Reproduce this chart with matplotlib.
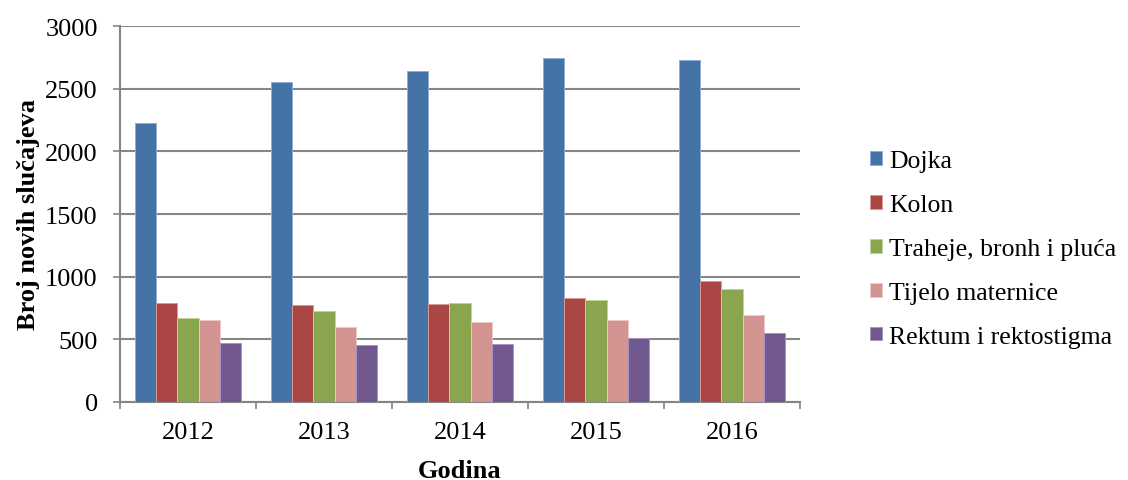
import matplotlib
matplotlib.use("Agg")
import matplotlib.pyplot as plt
import numpy as np

years = ["2012", "2013", "2014", "2015", "2016"]
series = ["Dojka", "Kolon", "Traheje, bronh i pluća", "Tijelo maternice", "Rektum i rektostigma"]
dojka = [2224, 2553, 2638, 2747, 2731]
kolon = [789, 776, 781, 829, 964]
traheje = [672, 723, 787, 815, 900]
tijelo = [651, 595, 638, 656, 693]
rektum = [470, 457, 462, 508, 550]
values = [dojka, kolon, traheje, tijelo, rektum]
colors = ["#4572A7", "#AA4643", "#89A54E", "#D39391", "#71588F"]
edges = ["#8FAED6", "#D89B99", "#BFD39A", "#EDC9C8", "#A895C0"]

plt.rcParams['font.family'] = ['Liberation Serif', 'DejaVu Serif']

fig = plt.figure(figsize=(11.28, 4.81), dpi=100)
ax = fig.add_axes([120/1128, 1-403/481, 680/1128, 376/481])

x = np.arange(len(years))
w = 0.155
for i, (name, vals) in enumerate(zip(series, values)):
    ax.bar(x + (i - 2) * w, vals, width=w, color=colors[i], edgecolor=edges[i],
           linewidth=0.7, label=name, zorder=3)

ax.set_xlim(-0.5, len(years) - 0.5)
ax.set_ylim(0, 3000)
ax.set_yticks(np.arange(0, 3001, 500))
ax.set_xticks(x)
ax.set_xticklabels(years)
ax.set_xticks(np.arange(-0.5, len(years), 1), minor=True)
ax.tick_params(axis='x', which='major', length=0, labelsize=19, pad=14)
ax.tick_params(axis='x', which='minor', length=5, color='#868686', width=1.2, direction='out')
ax.tick_params(axis='y', length=5, color='#868686', width=1.2, direction='out', labelsize=19, pad=11)
ax.grid(axis='y', color='#868686', linewidth=1.5, zorder=0)
for s in ['top', 'right']:
    ax.spines[s].set_visible(False)
for s in ['left', 'bottom']:
    ax.spines[s].set_color('#868686')
    ax.spines[s].set_linewidth(1.5)

ax.set_xlabel("Godina", fontsize=19, fontweight='bold', labelpad=11)
ax.set_ylabel("Broj novih slučajeva", fontsize=19, fontweight='bold', labelpad=4)

leg = fig.legend(loc='center left', bbox_to_anchor=(847/1128, 1-250/481), frameon=False,
                 fontsize=18.5, handlelength=0.45, handleheight=0.45, handletextpad=0.28,
                 labelspacing=0.85)

fig.savefig("out.png", dpi=100)
